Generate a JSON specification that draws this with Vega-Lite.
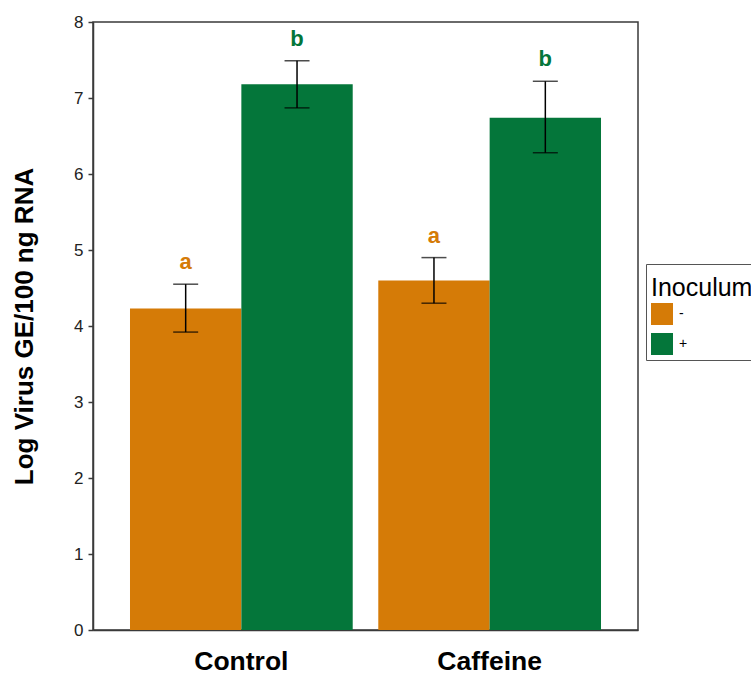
{
  "$schema": "https://vega.github.io/schema/vega-lite/v6.json",
  "width": 545,
  "height": 608,
  "autosize": {"type": "none"},
  "padding": {"left": 93, "top": 22, "right": 113, "bottom": 43},
  "background": "white",
  "config": {
    "font": "Liberation Sans",
    "view": {"stroke": "#3a3a3a", "strokeWidth": 1.5}
  },
  "data": {
    "values": [
      {"treatment": "Control", "inoculum": "-", "mean": 4.23, "lower": 3.92, "upper": 4.55, "letter": "a"},
      {"treatment": "Control", "inoculum": "+", "mean": 7.18, "lower": 6.87, "upper": 7.49, "letter": "b"},
      {"treatment": "Caffeine", "inoculum": "-", "mean": 4.60, "lower": 4.30, "upper": 4.90, "letter": "a"},
      {"treatment": "Caffeine", "inoculum": "+", "mean": 6.74, "lower": 6.28, "upper": 7.22, "letter": "b"}
    ]
  },
  "encoding": {
    "x": {
      "field": "treatment", "type": "nominal", "sort": ["Control", "Caffeine"],
      "scale": {"paddingInner": 0.103, "paddingOuter": 0.149},
      "axis": {"title": null, "ticks": false, "labelAngle": 0, "labelFontSize": 26.5, "labelFontWeight": "bold", "labelColor": "#000", "labelBaseline": "alphabetic", "labelPadding": 39, "domainColor": "#3a3a3a", "domainWidth": 1.5}
    },
    "xOffset": {"field": "inoculum", "type": "nominal", "sort": ["-", "+"], "scale": {"paddingInner": 0, "paddingOuter": 0}}
  },
  "layer": [
    {
      "mark": {"type": "bar"},
      "encoding": {
        "y": {
          "field": "mean", "type": "quantitative",
          "scale": {"domain": [0, 8], "nice": false},
          "axis": {"title": "Log Virus GE/100 ng RNA", "titleFontSize": 26, "titleFontWeight": "bold", "titleColor": "#000", "titlePadding": 36, "grid": false, "values": [0,1,2,3,4,5,6,7,8], "format": "d", "labelOverlap": false, "labelFontSize": 17, "labelColor": "#222", "tickSize": 5, "tickColor": "#3a3a3a", "tickWidth": 1.5, "labelPadding": 5, "domainColor": "#3a3a3a", "domainWidth": 1.5}
        },
        "color": {
          "field": "inoculum", "type": "nominal", "sort": ["-", "+"],
          "scale": {"domain": ["-", "+"], "range": ["#D57B07", "#04763A"]},
          "legend": {
            "title": "Inoculum", "orient": "none", "legendX": 553, "legendY": 242,
            "strokeColor": "#555", "padding": 5,
            "titleFontSize": 25, "titleFontWeight": "normal", "titleColor": "#000",
            "titleBaseline": "line-top", "titleLineHeight": 40, "titlePadding": 9,
            "symbolType": "square", "symbolSize": 484, "symbolStrokeWidth": 0, "symbolOpacity": 1,
            "labelFontSize": 14, "labelColor": "#000", "labelOffset": 6, "rowPadding": 8
          }
        }
      }
    },
    {
      "mark": {"type": "rule", "color": "#000", "strokeWidth": 1.5},
      "encoding": {
        "y": {"field": "lower", "type": "quantitative"},
        "y2": {"field": "upper"}
      }
    },
    {
      "mark": {"type": "tick", "color": "#000", "thickness": 1.5, "size": 25, "orient": "horizontal"},
      "encoding": {"y": {"field": "lower", "type": "quantitative"}}
    },
    {
      "mark": {"type": "tick", "color": "#000", "thickness": 1.5, "size": 25, "orient": "horizontal"},
      "encoding": {"y": {"field": "upper", "type": "quantitative"}}
    },
    {
      "mark": {"type": "text", "fontSize": 22, "fontWeight": "bold", "baseline": "middle", "dy": -22},
      "encoding": {
        "y": {"field": "upper", "type": "quantitative"},
        "text": {"field": "letter"},
        "color": {"field": "inoculum", "type": "nominal", "legend": null}
      }
    }
  ]
}
